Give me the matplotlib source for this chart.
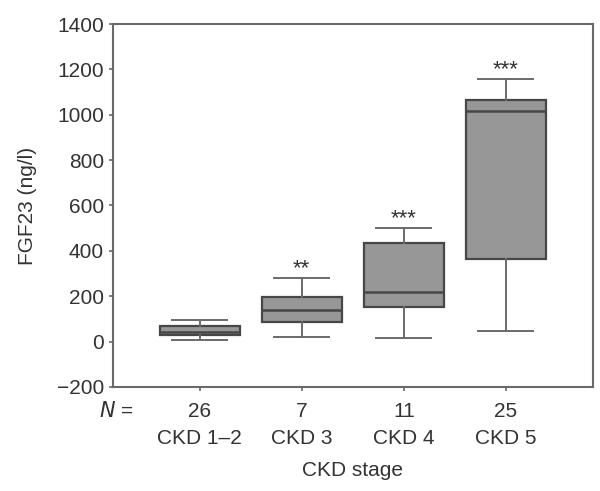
import matplotlib
matplotlib.use("Agg")
import matplotlib.pyplot as plt

plt.rcParams["font.family"] = ["Liberation Sans", "DejaVu Sans"]

# データ（図から読み取った箱ひげの要約統計量）
stages = ["CKD 1\u20132", "CKD 3", "CKD 4", "CKD 5"]
n_counts = [26, 7, 11, 25]
whislo = [8, 22, 15, 46]
q1 = [28, 86, 152, 363]
med = [44, 141, 218, 1015]
q3 = [68, 196, 434, 1064]
whishi = [95, 280, 500, 1157]
stars = ["", "**", "***", "***"]

stats = [dict(whislo=a, q1=b, med=c, q3=d, whishi=e, fliers=[])
         for a, b, c, d, e in zip(whislo, q1, med, q3, whishi)]

TXT = "#333333"
EDGE = "#474747"
FS = 15

fig = plt.figure(figsize=(6.0, 4.91), dpi=100)
ax = fig.add_axes([0.188, 0.212, 0.800, 0.739])

pos = list(range(1, len(stages) + 1))
ax.bxp(stats, positions=pos, widths=0.78, capwidths=0.54, patch_artist=True,
       showfliers=False,
       boxprops=dict(facecolor="#979797", edgecolor=EDGE, linewidth=1.6),
       medianprops=dict(color=EDGE, linewidth=1.8),
       whiskerprops=dict(color="#6a6a6a", linewidth=1.4),
       capprops=dict(color="#6a6a6a", linewidth=1.4))

# 有意差の星
for p, hi, s in zip(pos, whishi, stars):
    if s:
        ax.text(p, hi - 5, s, ha="center", va="bottom", fontsize=16,
                color=TXT)

ax.set_xlim(0.147, 4.853)
ax.set_ylim(-200, 1400)
yt = list(range(-200, 1401, 200))
ax.set_yticks(yt)
ax.set_yticklabels([f"\u2212{abs(v)}" if v < 0 else str(v) for v in yt])
ax.set_xticks(pos)
ax.set_xticklabels([f"{n}\n{s}" for n, s in zip(n_counts, stages)], linespacing=1.55)

for sp in ax.spines.values():
    sp.set_color("#6a6a6a")
    sp.set_linewidth(1.5)
ax.tick_params(axis="both", colors="#6a6a6a", labelcolor=TXT, labelsize=FS,
               length=3, width=1.2)
ax.tick_params(axis="x", pad=8)

fig.text(0.193, 0.162, "$\\it{N}$ =", ha="center", va="center",
         fontsize=FS, color=TXT)

ax.set_ylabel("FGF23 (ng/l)", fontsize=FS, color=TXT, labelpad=14)
ax.set_xlabel("CKD stage", fontsize=FS, color=TXT, labelpad=9)

fig.savefig("out.png", dpi=100)
